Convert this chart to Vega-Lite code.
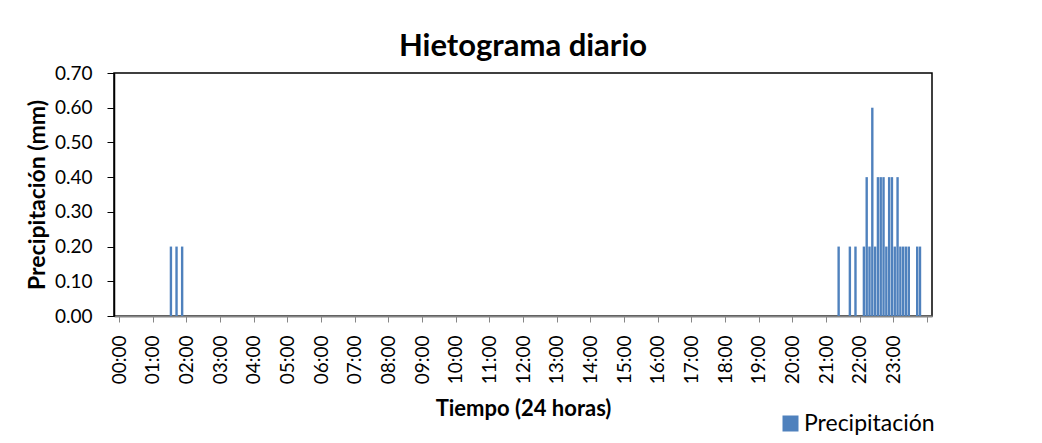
{
  "$schema": "https://vega.github.io/schema/vega-lite/v6.json",
  "width": 818,
  "height": 243,
  "autosize": {"type": "none"},
  "padding": {"left": 114, "top": 73, "right": 110, "bottom": 127},
  "background": "white",
  "title": {
    "text": "Hietograma diario",
    "font": "Lato",
    "fontSize": 31,
    "fontWeight": "bold",
    "color": "#000000",
    "anchor": "middle",
    "baseline": "alphabetic",
    "offset": -23
  },
  "data": {
    "values": [
      {"minuto": 90, "precipitacion": 0.2},
      {"minuto": 100, "precipitacion": 0.2},
      {"minuto": 110, "precipitacion": 0.2},
      {"minuto": 1280, "precipitacion": 0.2},
      {"minuto": 1300, "precipitacion": 0.2},
      {"minuto": 1310, "precipitacion": 0.2},
      {"minuto": 1325, "precipitacion": 0.2},
      {"minuto": 1330, "precipitacion": 0.4},
      {"minuto": 1335, "precipitacion": 0.2},
      {"minuto": 1340, "precipitacion": 0.6},
      {"minuto": 1345, "precipitacion": 0.2},
      {"minuto": 1350, "precipitacion": 0.4},
      {"minuto": 1355, "precipitacion": 0.4},
      {"minuto": 1360, "precipitacion": 0.4},
      {"minuto": 1365, "precipitacion": 0.2},
      {"minuto": 1370, "precipitacion": 0.4},
      {"minuto": 1375, "precipitacion": 0.4},
      {"minuto": 1380, "precipitacion": 0.2},
      {"minuto": 1385, "precipitacion": 0.4},
      {"minuto": 1390, "precipitacion": 0.2},
      {"minuto": 1395, "precipitacion": 0.2},
      {"minuto": 1400, "precipitacion": 0.2},
      {"minuto": 1405, "precipitacion": 0.2},
      {"minuto": 1420, "precipitacion": 0.2},
      {"minuto": 1425, "precipitacion": 0.2}
    ]
  },
  "mark": {"type": "bar", "width": 2.4, "xOffset": 1.42, "color": "#4F81BD"},
  "encoding": {
    "x": {
      "field": "minuto",
      "type": "quantitative",
      "scale": {"domain": [0, 1440], "nice": false, "zero": false},
      "axis": {
        "title": "Tiempo (24 horas)",
        "values": [0, 60, 120, 180, 240, 300, 360, 420, 480, 540, 600, 660, 720, 780, 840, 900, 960, 1020, 1080, 1140, 1200, 1260, 1320, 1380, 1440],
        "labelExpr": "datum.value >= 1440 ? '' : (datum.value < 600 ? '0' : '') + floor(datum.value / 60) + ':00'",
        "labelAngle": 270,
        "labelAlign": "right",
        "labelBaseline": "middle",
        "labelPadding": 13,
        "labelFont": "Lato",
        "labelFontSize": 19,
        "labelColor": "#000000",
        "labelFlush": false,
        "labelOverlap": false,
        "grid": false,
        "domainColor": "#868686",
        "domainWidth": 2,
        "tickColor": "#868686",
        "tickWidth": 1,
        "tickSize": 6,
        "titleFont": "Lato",
        "titleFontSize": 22,
        "titleFontWeight": "bold",
        "titleColor": "#000000",
        "titlePadding": 15
      }
    },
    "y": {
      "field": "precipitacion",
      "type": "quantitative",
      "scale": {"domain": [0, 0.7], "nice": false},
      "axis": {
        "title": "Precipitación (mm)",
        "values": [0, 0.1, 0.2, 0.3, 0.4, 0.5, 0.6, 0.7],
        "format": ".2f",
        "labelFont": "Lato",
        "labelFontSize": 19,
        "labelColor": "#000000",
        "labelPadding": 15,
        "labelFlush": false,
        "grid": false,
        "domainColor": "#000000",
        "domainWidth": 1.5,
        "tickColor": "#000000",
        "tickSize": 7,
        "titleFont": "Lato",
        "titleFontSize": 23,
        "titleFontWeight": "bold",
        "titleColor": "#000000",
        "titlePadding": 5
      }
    },
    "color": {
      "datum": "Precipitación",
      "type": "nominal",
      "scale": {"range": ["#4F81BD"]},
      "legend": {
        "title": null,
        "orient": "none",
        "legendX": 665,
        "legendY": 339,
        "symbolType": "square",
        "symbolSize": 256,
        "symbolStrokeWidth": 0,
        "labelFont": "Lato",
        "labelFontSize": 23,
        "labelColor": "#000000",
        "labelOffset": 2
      }
    }
  },
  "config": {
    "view": {"stroke": "#000000", "strokeWidth": 1.5}
  }
}
